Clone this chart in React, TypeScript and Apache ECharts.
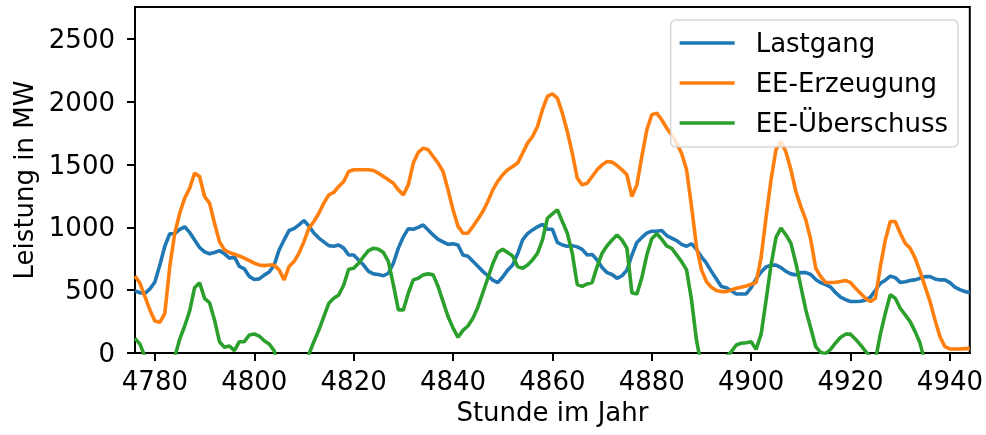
import React, { useEffect, useRef } from "react";
import * as echarts from "echarts";

const startHour = 4776;

const lastgang = [
  495, 480, 475, 510, 565, 700, 850, 950, 950, 985, 1005, 960, 900, 840, 805, 790, 800, 815, 790, 755,
  765, 690, 670, 610, 585, 590, 620, 645, 700, 820, 900, 975, 990, 1020, 1055, 1010, 955, 915, 885, 855,
  850, 860, 835, 780, 780, 740, 700, 650, 630, 625, 615, 635, 715, 835, 925, 990, 985, 1000, 1020, 980,
  940, 905, 885, 865, 870, 860, 780, 770, 730, 690, 650, 615, 580, 560, 605, 660, 700, 790, 900, 950,
  980, 1005, 1025, 985, 985, 880, 860, 850, 855, 845, 825, 780, 785, 740, 680, 640, 625, 595, 615, 660,
  780, 880, 920, 955, 970, 970, 975, 935, 915, 895, 865, 850, 870, 825, 765, 715, 650, 590, 530, 520,
  495, 470, 470, 470, 520, 590, 645, 685, 700, 700, 680, 650, 630, 622, 640, 640, 625, 585, 560, 545,
  525, 480, 445, 425, 410, 410, 412, 420, 445, 500, 555, 580, 612, 600, 562, 568, 578, 582, 595, 608,
  608, 590, 582, 582, 560, 525, 505, 490, 480,
];

const erzeugung = [
  614, 555, 449, 343, 255, 244, 316, 688, 954, 1113, 1233, 1312, 1432, 1405, 1246, 1193, 1033, 887, 821, 800,
  786, 773, 755, 736, 715, 701, 696, 701, 701, 662, 582, 688, 728, 794, 887, 994, 1047, 1113, 1193, 1259,
  1278, 1326, 1366, 1445, 1459, 1459, 1459, 1459, 1453, 1432, 1405, 1379, 1352, 1299, 1259, 1339, 1512, 1597, 1631, 1618,
  1565, 1512, 1445, 1299, 1140, 1010, 954, 954, 1007, 1065, 1126, 1206, 1299, 1366, 1419, 1459, 1485, 1512, 1591, 1671,
  1724, 1804, 1937, 2043, 2064, 2030, 1910, 1764, 1591, 1392, 1339, 1352, 1405, 1459, 1498, 1525, 1520, 1493, 1459, 1419,
  1246, 1339, 1565, 1777, 1897, 1910, 1857, 1791, 1737, 1671, 1591, 1459, 1166, 848, 662, 569, 523, 497, 489, 489,
  502, 515, 523, 534, 547, 561, 760, 1080, 1380, 1620, 1684, 1600, 1459, 1286, 1166, 1060, 900, 675, 608, 561,
  561, 563, 569, 577, 561, 515, 476, 436, 409, 436, 688, 900, 1047, 1047, 954, 874, 834, 755, 648, 529,
  409, 263, 130, 50, 32, 32, 32, 35, 35,
];

const ueberschuss = [
  117, 70, -30, -170, -315, -455, -535, -260, -30, 110, 215, 335, 520, 560, 435, 400, 263, 90, 45, 56,
  19, 90, 90, 143, 151, 135, 98, 72, 19, -158, -318, -287, -262, -226, -168, -10, 90, 183, 290, 396,
  436, 462, 542, 667, 675, 715, 768, 816, 834, 826, 800, 728, 542, 343, 343, 476, 582, 595, 622, 630,
  622, 529, 409, 290, 200, 125, 180, 215, 276, 365, 480, 595, 710, 800, 826, 800, 773, 688, 675, 701,
  741, 794, 900, 1073, 1108, 1140, 1047, 954, 794, 545, 530, 550, 561, 688, 794, 853, 900, 940, 900, 834,
  480, 470, 600, 780, 910, 950, 906, 853, 834, 781, 728, 662, 422, 100, -103, -146, -127, -93, -41, -31,
  10, 64, 77, 82, 90, 29, 150, 420, 700, 920, 995, 940, 874, 715, 529, 343, 197, 50, 5, -5,
  30, 80, 125, 150, 150, 110, 65, 15, -30, -60, 150, 316, 465, 436, 356, 303, 250, 170, 77, -79,
  -199, -327, -452, -532, -528, -493, -473, -455, -445,
];

const seriesNames = ["Lastgang", "EE-Erzeugung", "EE-Überschuss"];
const seriesColors = ["#1f77b4", "#ff7f0e", "#2ca02c"];
const xTicks = [4780, 4800, 4820, 4840, 4860, 4880, 4900, 4920, 4940];
const yTicks = [0, 500, 1000, 1500, 2000, 2500];

const FONT = "DejaVu Sans";
const FS = 26;

export default function App() {
  const ref = useRef<HTMLDivElement>(null);
  useEffect(() => {
    if (!ref.current) return;
    const chart = echarts.init(ref.current, undefined, { renderer: "svg" });
    const toPairs = (arr: number[]) => arr.map((v, i) => [startHour + i, v]);
    const all = [lastgang, erzeugung, ueberschuss];
    chart.setOption({
      animation: false,
      grid: {
        left: 135,
        right: 15,
        top: 7,
        bottom: 82,
        show: true,
        borderColor: "#000",
        borderWidth: 2,
        backgroundColor: "transparent",
      },
      legend: {
        orient: "vertical",
        right: 28,
        top: 20,
        padding: [8, 10, 9, 9],
        itemGap: 10,
        itemWidth: 55,
        itemHeight: 3.5,
        icon: "rect",
        backgroundColor: "rgba(255,255,255,0.8)",
        borderColor: "rgba(204,204,204,0.8)",
        borderWidth: 1.5,
        borderRadius: 5,
        textStyle: {
          fontFamily: FONT,
          fontSize: FS,
          color: "#000",
          lineHeight: 30,
          padding: [0, 0, 0, 16],
        },
        data: seriesNames,
      },
      xAxis: {
        type: "value",
        min: startHour,
        max: startHour + lastgang.length - 1,
        name: "Stunde im Jahr",
        nameLocation: "middle",
        nameGap: 35,
        nameTextStyle: { fontFamily: FONT, fontSize: FS, color: "#000" },
        axisLine: { show: true, lineStyle: { color: "#000", width: 2 } },
        axisTick: {
          show: true,
          length: 8,
          lineStyle: { color: "#000", width: 2 },
          customValues: xTicks,
        },
        axisLabel: {
          fontFamily: FONT,
          fontSize: FS,
          color: "#000",
          margin: 15,
          customValues: xTicks,
          formatter: (v: number) => String(v),
        },
        splitLine: { show: false },
      },
      yAxis: {
        type: "value",
        min: 0,
        max: 2755,
        name: "Leistung in MW",
        nameLocation: "middle",
        nameGap: 98,
        nameTextStyle: { fontFamily: FONT, fontSize: FS, color: "#000" },
        axisLine: { show: true, lineStyle: { color: "#000", width: 2 } },
        axisTick: {
          show: true,
          length: 8,
          lineStyle: { color: "#000", width: 2 },
          customValues: yTicks,
        },
        axisLabel: {
          fontFamily: FONT,
          fontSize: FS,
          color: "#000",
          margin: 20,
          customValues: yTicks,
          formatter: (v: number) => String(v),
        },
        splitLine: { show: false },
      },
      series: all.map((arr, i) => ({
        name: seriesNames[i],
        type: "line",
        data: toPairs(arr),
        showSymbol: false,
        symbol: "none",
        clip: true,
        color: seriesColors[i],
        lineStyle: { color: seriesColors[i], width: 3.6 },
      })),
    });
    return () => chart.dispose();
  }, []);
  return (
    <div
      ref={ref}
      style={{ position: "fixed", left: 0, top: 0, width: 986, height: 435 }}
    />
  );
}
